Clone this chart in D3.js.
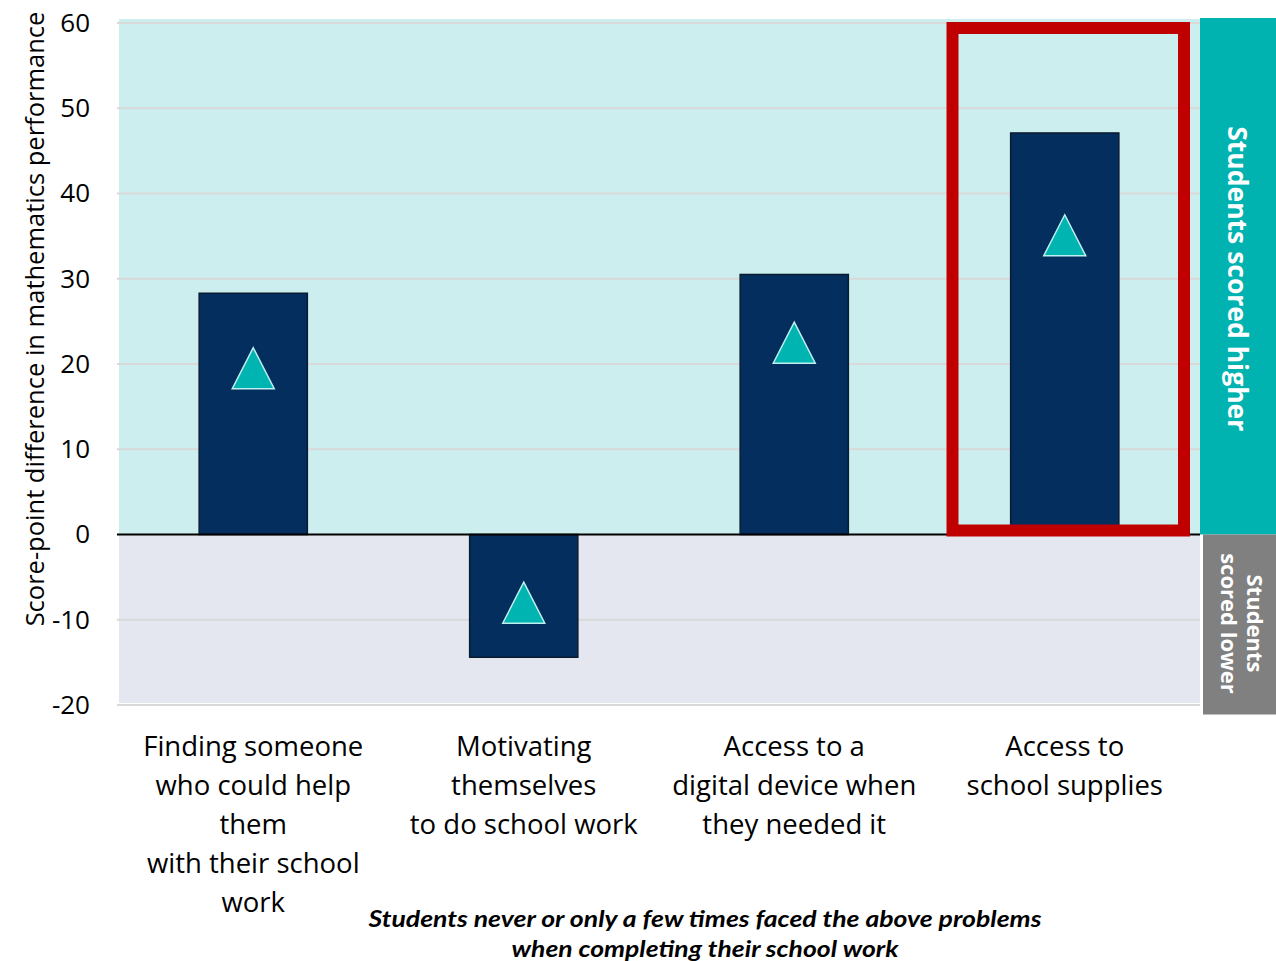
<!DOCTYPE html>
<html><head><meta charset="utf-8">
<script src="https://cdn.jsdelivr.net/npm/d3@7"></script>
<style>body{margin:0;background:#fff;}svg{display:block;}</style>
</head><body>
<svg id="chart" width="1276" height="961"></svg>
<script>
const categories = [
  ["Finding someone","who could help","them","with their school","work"],
  ["Motivating","themselves","to do school work"],
  ["Access to a","digital device when","they needed it"],
  ["Access to","school supplies"]
];
const barValues = [28.3, -14.4, 30.5, 47.1];
const markerValues = [19.5, -8.0, 22.5, 35.1];
const yTicks = [-20, -10, 0, 10, 20, 30, 40, 50, 60];
const yTitle = "Score-point difference in mathematics performance";
const noteLines = ["Students never or only a few times faced the above problems","when completing their school work"];
const highlightIndex = 3;

const svg = d3.select("#chart");
const font = "'Open Sans', sans-serif";
const left = 118, right = 1200;
const x = d3.scaleBand().domain(d3.range(categories.length)).range([left, right]);
const y = d3.scaleLinear().domain([-20, 60]).range([705, 23]);

// backgrounds
svg.append("rect").attr("x", left+1).attr("y", y(60)-4).attr("width", right-left-1).attr("height", y(0)-y(60)+4).attr("fill", "#CCEEEE");
svg.append("rect").attr("x", left+1).attr("y", y(0)).attr("width", right-left-1).attr("height", y(-20)-y(0)-2).attr("fill", "#E4E7EF");

// right bands
svg.append("rect").attr("x", 1200).attr("y", y(60)-5).attr("width", 80).attr("height", y(0)-y(60)+5).attr("fill", "#00B3B0");
svg.append("rect").attr("x", 1203).attr("y", y(0)).attr("width", 80).attr("height", 180).attr("fill", "#808080");
svg.append("text").attr("transform", `translate(1238,${(y(60)+y(0))/2}) rotate(90)`)
  .attr("text-anchor","middle").attr("dominant-baseline","central")
  .attr("font-family", font).attr("font-weight","bold").attr("font-size", 26.5).attr("fill","#fff")
  .text("Students scored higher");
const low = svg.append("text").attr("transform", `translate(1241,${y(0)+89}) rotate(90)`)
  .attr("text-anchor","middle").attr("font-family", font).attr("font-weight","bold").attr("font-size", 22).attr("fill","#fff");
low.append("tspan").attr("x",0).attr("y",-6).text("Students");
low.append("tspan").attr("x",0).attr("y",20).text("scored lower");

// gridlines
svg.append("g").selectAll("line").data(yTicks.filter(t => t !== 0)).join("line")
  .attr("x1", left-1).attr("x2", right).attr("y1", d => y(d)).attr("y2", d => y(d))
  .attr("stroke", "#D9D9D9").attr("stroke-width", 2);

// y axis ticks
const yAxis = svg.append("g").attr("transform", `translate(${left},0)`)
  .call(d3.axisLeft(y).tickValues(yTicks).tickSize(0).tickPadding(28).tickFormat(d => String(d)));
yAxis.select(".domain").remove();
yAxis.selectAll("text").attr("font-family", font).attr("font-size", 26).attr("fill", "#000");

// y title
svg.append("text").attr("transform", `translate(34,319) rotate(-90)`)
  .attr("text-anchor","middle").attr("dominant-baseline","central")
  .attr("font-family", font).attr("font-size", 25.5).attr("fill","#000").text(yTitle);

// bars
const bw = x.bandwidth()*0.4;
svg.append("g").selectAll("rect").data(barValues).join("rect")
  .attr("x", (d,i) => x(i) + x.bandwidth()/2 - bw/2)
  .attr("y", d => y(Math.max(0,d)))
  .attr("width", bw)
  .attr("height", d => Math.abs(y(d)-y(0)))
  .attr("fill", "#032E5E").attr("stroke", "#0B1C30").attr("stroke-width", 1.5);

// zero line
svg.append("line").attr("x1", left-1).attr("x2", right).attr("y1", y(0)).attr("y2", y(0))
  .attr("stroke", "#000").attr("stroke-width", 2);

// markers
const tw = 42, th = 41;
svg.append("g").selectAll("path").data(markerValues).join("path")
  .attr("transform", (d,i) => `translate(${x(i)+x.bandwidth()/2},${y(d)})`)
  .attr("d", `M0,${-th/2}L${tw/2},${th/2}L${-tw/2},${th/2}Z`)
  .attr("fill", "#00B5B1").attr("stroke", "#BDEFF0").attr("stroke-width", 1.5);

// highlight box
const hx0 = x(highlightIndex) + 23, hx1 = x(highlightIndex) + x.bandwidth() - 16;
svg.append("rect")
  .attr("x", hx0).attr("y", y(60)+5)
  .attr("width", hx1 - hx0).attr("height", y(0)-4-(y(60)+5))
  .attr("fill","none").attr("stroke","#C00000").attr("stroke-width",12);

// x labels
const xl = svg.append("g");
categories.forEach((lines, i) => {
  const t = xl.append("text").attr("text-anchor","middle").attr("font-family", font).attr("font-size", 27.5).attr("fill","#000");
  lines.forEach((ln, j) => {
    t.append("tspan").attr("x", x(i)+x.bandwidth()/2).attr("y", 756 + j*39).text(ln);
  });
});

// note
const noteWidths = [673, 387];
noteLines.forEach((ln, j) => {
  svg.append("text").attr("x", 705).attr("y", 927 + j*30).attr("text-anchor","middle")
    .attr("font-family", "Lato, sans-serif").attr("font-weight","bold").attr("font-style","italic")
    .attr("font-size", 23.5).attr("fill","#000")
    .attr("textLength", noteWidths[j]).attr("lengthAdjust", "spacingAndGlyphs")
    .text(ln);
});
</script>
</body></html>
